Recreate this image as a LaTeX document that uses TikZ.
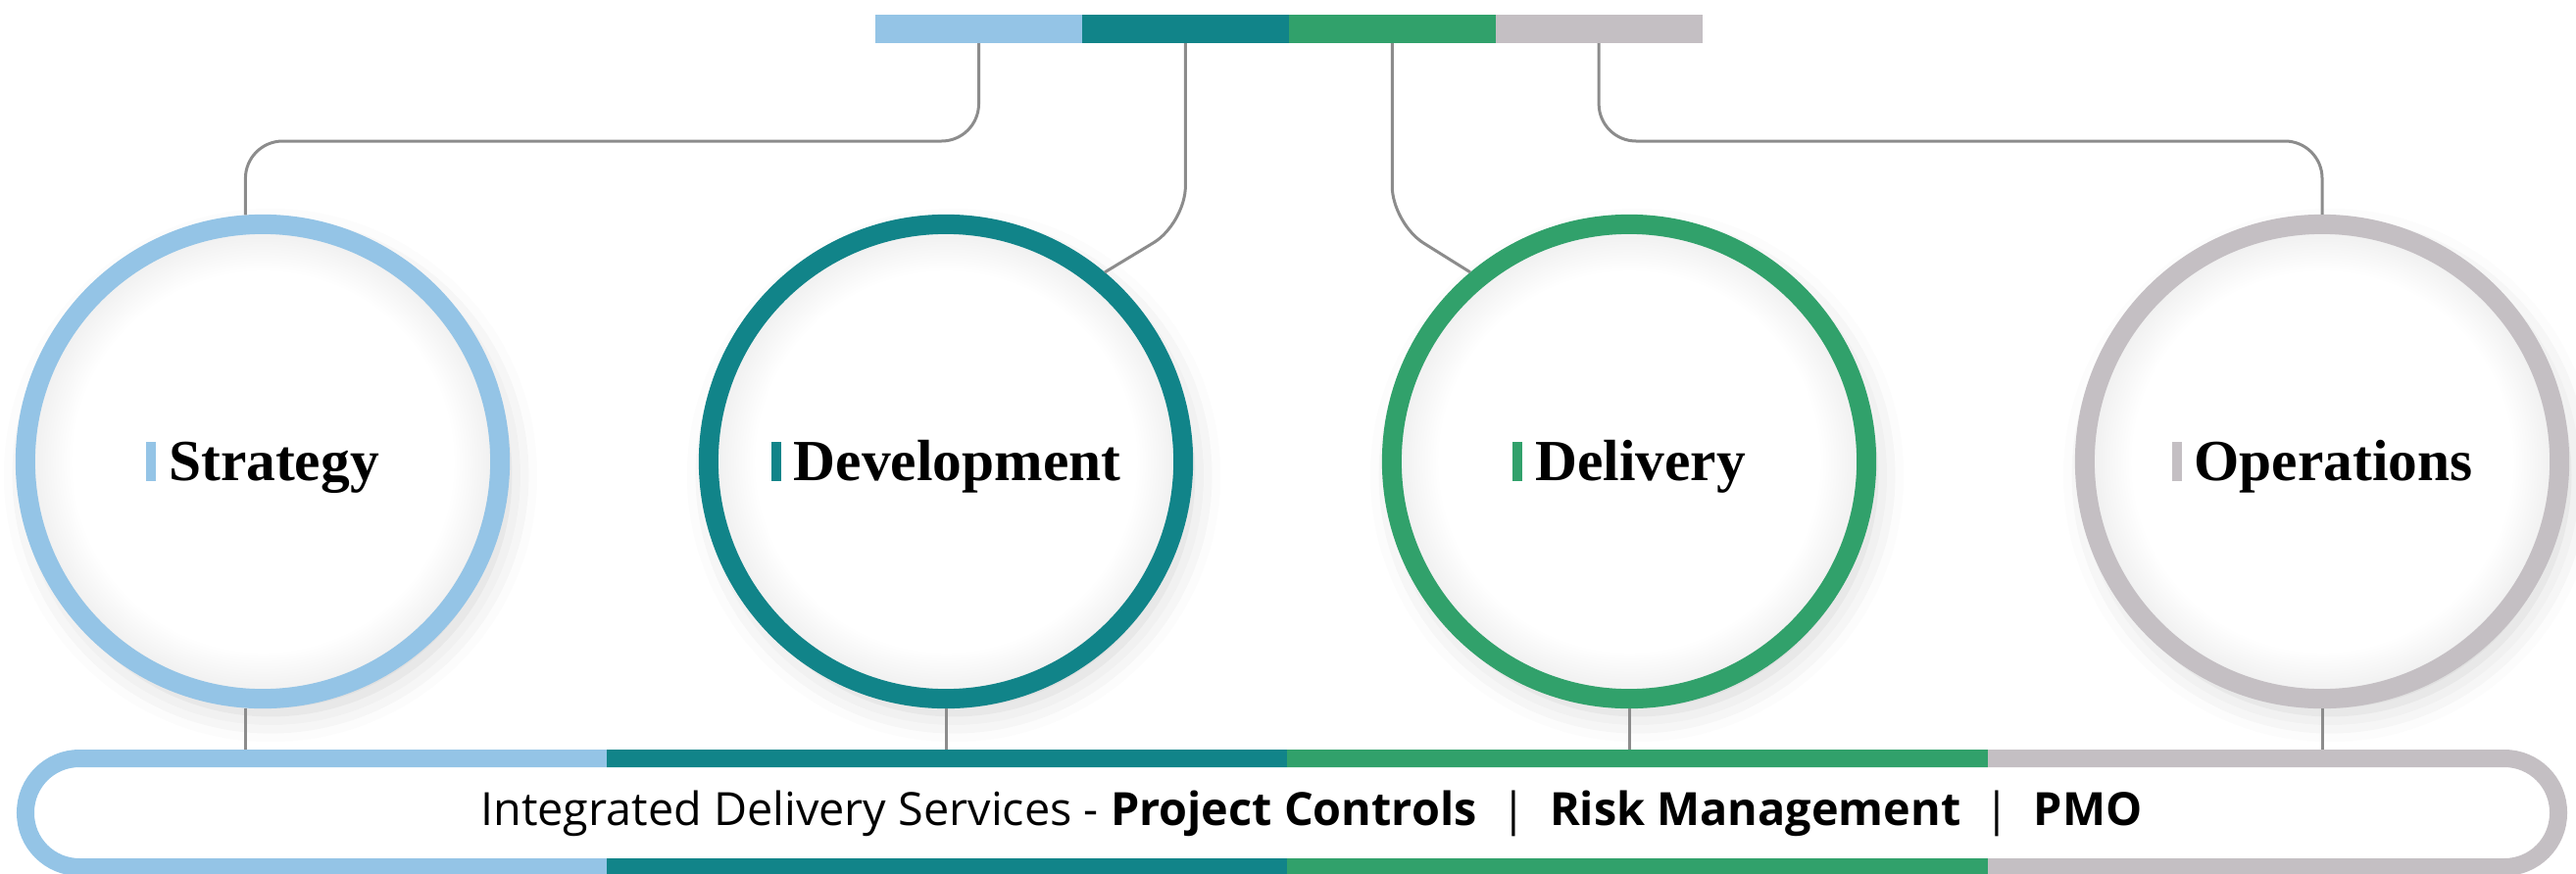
\documentclass[tikz,border=0pt]{standalone}
\usepackage{fontspec}
\setmainfont{Open Sans}
\newfontfamily\stagefont{Liberation Serif}
\usetikzlibrary{positioning, shadows.blur}

\definecolor{stratblue}{HTML}{94C4E6}
\definecolor{devteal}{HTML}{118489}
\definecolor{delgreen}{HTML}{31A16B}
\definecolor{opsgrey}{HTML}{C4BFC3}
\definecolor{linkgrey}{HTML}{8C8C8C}

% white disc that greys off towards its rim
\pgfdeclareradialshading{discfade}{\pgfpoint{0bp}{0bp}}{color(0bp)=(white); color(20bp)=(white); color(25bp)=(black!7); color(50bp)=(black!7)}

\newcommand{\stagelabel}[2]{\textcolor{#1}{\rule{0.1cm}{0.39cm}}\hspace{0.13cm}#2}

\begin{document}
\begin{tikzpicture}[x=0.01cm,y=-0.01cm,
  stage node/.style={circle,draw=#1,line width=0.2cm,minimum size=4.84cm,inner sep=0pt,
    shading=discfade,
    blur shadow={shadow xshift=0.08cm,shadow yshift=-0.14cm,shadow blur radius=0.3cm,shadow opacity=18},
    font=\stagefont\fontsize{16.9pt}{20pt}\selectfont\bfseries,text height=0.39cm,text depth=0pt},
  bar node/.style={fill=#1,minimum width=2.1075cm,minimum height=0.29cm,inner sep=0pt,outer sep=0pt},
  link/.style={linkgrey,line width=0.03cm,rounded corners=0.38cm}]

  \useasboundingbox (0,0) rectangle (2628,891);

  \coordinate (ribbon nw) at (26,774);
  \coordinate (ribbon se) at (2610,885);

  % colour bar on top
  \node[bar node=stratblue] (seg1) at (998.5,29.5) {};
  \node[bar node=devteal, right=0pt of seg1] (seg2) {};
  \node[bar node=delgreen, right=0pt of seg2] (seg3) {};
  \node[bar node=opsgrey, right=0pt of seg3] (seg4) {};

  % the four stages
  \node[stage node=stratblue] (strategy) at (268,471) {\stagelabel{stratblue}{Strategy}};
  \node[stage node=devteal] (development) at (965,471) {\stagelabel{devteal}{Development}};
  \node[stage node=delgreen] (delivery) at (1662,471) {\stagelabel{delgreen}{Delivery}};
  \node[stage node=opsgrey] (operations) at (2369,471) {\stagelabel{opsgrey}{Operations}};

  \draw[link] (seg1.south) -- ++(0,100) -| (strategy.94);
  \draw[link] (seg2.south) -- ++(0,184) -- (development.50);
  \draw[link] (seg3.south) -- ++(0,184) -- (delivery.130);
  \draw[link] (seg4.south) -- ++(0,100) -| (operations.north);

  \draw[link] (strategy.266) -- (strategy.266 |- ribbon nw);
  \draw[link] (development.south) -- (development.south |- ribbon nw);
  \draw[link] (delivery.south) -- (delivery.south |- ribbon nw);
  \draw[link] (operations.south) -- (operations.south |- ribbon nw);

  % services ribbon, one colour per stage
  \foreach \col/\from/\to in {stratblue/0/619, devteal/619/1313, delgreen/1313/2028, opsgrey/2028/2628}
  {
    \begin{scope}
      \clip (\from,700) rectangle (\to,900);
      \draw[\col, line width=0.18cm, rounded corners=0.55cm] (ribbon nw) rectangle (ribbon se);
    \end{scope}
  }
  \node[font=\fontsize{13.3pt}{16pt}\selectfont, text height=0.333cm, text depth=0pt] (services) at (1338,826)
    {Integrated Delivery Services - \textbf{Project Controls}~~|~~\textbf{Risk Management}~~|~~\textbf{PMO}};
\end{tikzpicture}
\end{document}
